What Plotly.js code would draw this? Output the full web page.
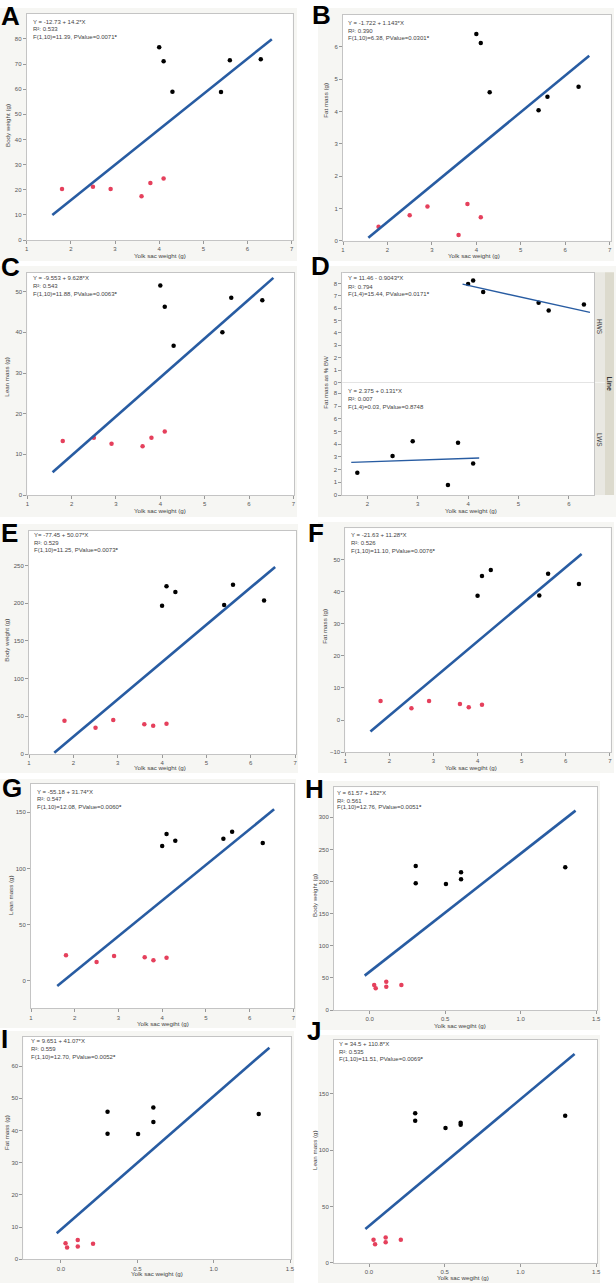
<!DOCTYPE html>
<html>
<head>
<meta charset="utf-8">
<script src="https://cdn.plot.ly/plotly-3.0.1.min.js"></script>
<style>
  html, body { margin: 0; padding: 0; background: #fff; }
  #fig { width: 616px; height: 1283px; }
</style>
</head>
<body>
<div id="fig"></div>
<script>
// yolk sac weight (g), panels A-G
var yolkLWS = [1.8, 2.5, 2.9, 3.6, 3.8, 4.1];
var yolkHWS = [4.0, 4.1, 4.3, 5.4, 5.6, 6.3];
// yolk sac weight (g), panels H-J
var yolkLWS2 = [0.03, 0.04, 0.11, 0.11, 0.21];
var yolkHWS2 = [0.305, 0.305, 0.505, 0.605, 0.605, 1.295];

// A - body weight (g)
var A_lws = [20.3, 21.2, 20.3, 17.4, 22.7, 24.5];
var A_hws = [76.7, 71.1, 59.0, 58.9, 71.5, 71.9];
var A_fitX = [1.58, 6.55], A_fitY = [9.9, 79.9];
// B - fat mass (g)
var B_lws = [0.43, 0.79, 1.06, 0.18, 1.14, 0.73];
var B_hws = [6.40, 6.12, 4.60, 4.04, 4.46, 4.77];
var B_fitX = [1.57, 6.54], B_fitY = [0.09, 5.73];
// C - lean mass (g)
var C_lws = [13.3, 14.1, 12.6, 12.0, 14.1, 15.6];
var C_hws = [51.5, 46.3, 36.7, 40.0, 48.5, 47.9];
var C_fitX = [1.57, 6.55], C_fitY = [5.6, 53.4];
// D - fat mass as % BW, split by line
var D_hws = [7.95, 8.24, 7.30, 6.44, 5.82, 6.30];
var D_hwsFitX = [3.89, 6.42], D_hwsFitY = [7.94, 5.66];
var D_lws = [1.76, 3.07, 4.22, 0.79, 4.12, 2.47];
var D_lwsFitX = [1.68, 4.22], D_lwsFitY = [2.57, 2.91];
// E - body weight (g)
var E_lws = [44.2, 34.9, 45.1, 39.3, 37.5, 40.2];
var E_hws = [196.6, 222.2, 214.7, 197.4, 224.4, 203.6];
var E_fitX = [1.57, 6.55], E_fitY = [1.8, 248];
// F - fat mass (g)
var F_lws = [5.9, 3.7, 5.9, 5.0, 4.0, 4.8];
var F_hws = [38.8, 45.0, 46.9, 38.9, 45.7, 42.5];
var F_fitX = [1.57, 6.36], F_fitY = [-3.6, 51.9];
// G - lean mass (g)
var G_lws = [22.6, 16.6, 22.0, 20.8, 18.1, 20.5];
var G_hws = [120.0, 130.7, 124.7, 126.5, 132.8, 122.7];
var G_fitX = [1.6, 6.56], G_fitY = [-4.7, 152.7];
// H - body weight (g)
var H_lws = [38.9, 33.7, 44.1, 36.3, 38.9];
var H_hws = [224.2, 197.2, 196.2, 214.4, 203.5, 222.1];
var H_fitX = [-0.033, 1.363], H_fitY = [53.5, 310.4];
// I - fat mass (g)
var I_lws = [5.0, 3.7, 6.0, 4.0, 4.8];
var I_hws = [45.8, 39.0, 38.9, 47.1, 42.6, 45.1];
var I_fitX = [-0.028, 1.365], I_fitY = [8.1, 65.7];
// J - lean mass (g)
var J_lws = [20.5, 16.3, 22.5, 18.1, 20.5];
var J_hws = [132.8, 126.3, 119.8, 124.5, 122.7, 130.7];
var J_fitX = [-0.024, 1.357], J_fitY = [29.9, 185.6];

var FONT = 'Liberation Sans, Arial, sans-serif';
var W = 616, H = 1283;
var RED = '#e5405c', BLUE = '#285ca2', EDGE = '#c4c4c4';
function px(x) { return x / W; }
function py(y) { return 1 - y / H; }

var traces = [];
var frames = [];
var shapes = [];
var annotations = [];
var layout = {
  width: W, height: H,
  margin: {l: 0, r: 0, t: 0, b: 0},
  paper_bgcolor: '#fff', plot_bgcolor: '#fff',
  showlegend: false,
  font: {family: FONT, color: '#444'}
};

function axisBase() {
  return {
    showline: true, mirror: true, linecolor: EDGE, linewidth: 1,
    ticks: 'outside', ticklen: 3, tickwidth: 1, tickcolor: '#999',
    tickfont: {family: FONT, size: 6, color: '#555'},
    showgrid: false, zeroline: false, fixedrange: true
  };
}

function note(text, x, y, opts) {
  var a = {
    text: text, xref: 'paper', yref: 'paper', x: px(x), y: py(y),
    xanchor: 'left', yanchor: 'middle', showarrow: false,
    font: {family: FONT, size: 6, color: '#444'}
  };
  for (var k in opts) a[k] = opts[k];
  annotations.push(a);
}

function hline(x0, x1, y, color) {
  shapes.push({type: 'line', xref: 'paper', yref: 'paper', layer: 'below',
    x0: px(x0), x1: px(x1), y0: py(y), y1: py(y), line: {color: color, width: 1}});
}

function pts(x, y, color, sfx) {
  return {x: x, y: y, type: 'scatter', mode: 'markers', xaxis: 'x' + sfx, yaxis: 'y' + sfx,
    marker: {color: color, size: 4.5}, hoverinfo: 'skip'};
}
function fit(x, y, w, sfx) {
  return {x: x, y: y, type: 'scatter', mode: 'lines', xaxis: 'x' + sfx, yaxis: 'y' + sfx,
    line: {color: BLUE, width: w}, hoverinfo: 'skip'};
}

function panel(n, o) {
  var sfx = n === 1 ? '' : String(n);
  var xa = axisBase(), ya = axisBase();
  xa.domain = [px(o.box[0]), px(o.box[1])];
  ya.domain = [py(o.box[3]), py(o.box[2])];
  xa.range = o.xr; ya.range = o.yr;
  xa.anchor = 'y' + sfx; ya.anchor = 'x' + sfx;
  xa.tick0 = 0; xa.dtick = o.xdt || 1;
  ya.tick0 = 0; ya.dtick = o.ydt;
  if (o.xfmt) xa.tickformat = o.xfmt;
  if (o.hideX) { xa.showticklabels = false; xa.ticks = ''; xa.showline = false; }
  if (o.noMirrorX) xa.mirror = false;
  layout['xaxis' + sfx] = xa;
  layout['yaxis' + sfx] = ya;

  shapes.push({type: 'rect', xref: 'paper', yref: 'paper', layer: 'below',
    x0: px(o.box[0]), x1: px(o.box[1]), y0: py(o.box[3]), y1: py(o.box[2]),
    fillcolor: '#fff', line: {width: 0}});

  o.series(sfx).forEach(function (t) { traces.push(t); });

  o.stats.forEach(function (s, i) { note(s, o.statX, o.statY[i]); });
  if (o.letter) note('<b>' + o.letter[0] + '</b>', o.letter[1], o.letter[2],
    {xanchor: 'center', font: {family: FONT, size: 26, color: '#000'}});
  if (o.ytitle) note(o.ytitle[0], o.ytitle[1], o.ytitle[2], {xanchor: 'center', textangle: -90, font: {family: FONT, size: 6.2, color: '#444'}});
  if (o.xtitle) note(o.xtitle[0], o.xtitle[1], o.xtitle[2], {xanchor: 'center', font: {family: FONT, size: 6.2, color: '#444'}});
}

// light grey panel frames
[[0, 297, 8, 261], [318, 614, 8, 261], [0, 297, 266, 517], [318, 616, 266, 517],
 [0, 298, 524, 773], [318, 614, 522, 773], [0, 296, 779, 1028], [318, 600, 781, 1030],
 [0, 294, 1031, 1283], [318, 600, 1035, 1283]].forEach(function (f) {
  frames.push({type: 'rect', xref: 'paper', yref: 'paper', layer: 'below',
    x0: px(f[0]), x1: px(f[1]), y0: py(f[3]), y1: py(f[2]),
    fillcolor: '#f6f6f3', line: {width: 0}});
});

var XT = 'Yolk sac weight (g)', XT2 = 'Yolk sac wegiht (g)';

panel(1, {box: [26.7, 292.7, 14, 240], xr: [1, 7.023], yr: [0, 89.9], ydt: 10,
  series: function (s) { return [pts(yolkLWS, A_lws, RED, s), pts(yolkHWS, A_hws, '#000', s), fit(A_fitX, A_fitY, 2.6, s)]; },
  stats: ['Y = -12.73 + 14.2*X', 'R²: 0.533', 'F(1,10)=11.39, PValue=0.0071<b>*</b>'], statX: 31, statY: [21.7, 29.3, 36.7],
  letter: ['A', 10.5, 16], ytitle: ['Body weight (g)', 7, 126], xtitle: [XT, 160, 255]});

panel(2, {box: [343, 610.7, 15, 240.7], xr: [1, 7.023], yr: [0, 6.99], ydt: 1,
  series: function (s) { return [pts(yolkLWS, B_lws, RED, s), pts(yolkHWS, B_hws, '#000', s), fit(B_fitX, B_fitY, 2.6, s)]; },
  stats: ['Y = -1.722 + 1.143*X', 'R²: 0.390', 'F(1,10)=6.38, PValue=0.0301<b>*</b>'], statX: 345.7, statY: [23.3, 30.7, 37.7],
  letter: ['B', 321, 15], ytitle: ['Fat mass (g)', 324.7, 100], xtitle: [XT, 474, 255.7]});

panel(3, {box: [27.3, 294, 273, 495], xr: [1, 7.015], yr: [0, 54.6], ydt: 10,
  series: function (s) { return [pts(yolkLWS, C_lws, RED, s), pts(yolkHWS, C_hws, '#000', s), fit(C_fitX, C_fitY, 2.6, s)]; },
  stats: ['Y = -9.553 + 9.628*X', 'R²: 0.543', 'F(1,10)=11.88, PValue=0.0063<b>*</b>'], statX: 31, statY: [278.3, 286, 293.7],
  letter: ['C', 10.5, 267], ytitle: ['Lean mass (g)', 6.7, 377], xtitle: [XT, 160, 510]});

panel(4, {box: [342.2, 594, 272.3, 382.4], xr: [1.5, 6.5], yr: [0, 8.9], ydt: 1, hideX: true,
  series: function (s) { return [pts(yolkHWS, D_hws, '#000', s), fit(D_hwsFitX, D_hwsFitY, 1.4, s)]; },
  stats: ['Y = 11.46 - 0.9043*X', 'R²: 0.794', 'F(1,4)=15.44, PValue=0.0171<b>*</b>'], statX: 346.3, statY: [278.3, 286.7, 294.3],
  letter: ['D', 320.5, 266]});

panel(5, {box: [342.2, 594, 382.4, 495], xr: [1.5, 6.5], yr: [0, 8.86], ydt: 1, noMirrorX: true,
  series: function (s) { return [pts(yolkLWS, D_lws, '#000', s), fit(D_lwsFitX, D_lwsFitY, 1.4, s)]; },
  stats: ['Y = 2.375 + 0.131*X', 'R²: 0.007', 'F(1,4)=0.03, PValue=0.8748'], statX: 346.3, statY: [391, 399, 406.7],
  ytitle: ['Fat mass as % BW', 324.7, 382], xtitle: [XT, 471, 510]});

// panel D: outer top edge and the faint divider between the two groups
hline(342.2, 594, 272.5, EDGE);
hline(342.2, 594, 382.5, '#e4e4e4');

panel(6, {box: [29, 296, 530.7, 754], xr: [1, 7.02], yr: [0, 296], ydt: 50,
  series: function (s) { return [pts(yolkLWS, E_lws, RED, s), pts(yolkHWS, E_hws, '#000', s), fit(E_fitX, E_fitY, 2.6, s)]; },
  stats: ['Y= -77.45 + 50.07*X', 'R²: 0.529', 'F(1,10)=11.25, PValue=0.0073<b>*</b>'], statX: 32.3, statY: [535, 542.7, 550],
  letter: ['E', 10, 532.5], ytitle: ['Body weight (g)', 6.7, 640], xtitle: [XT, 160, 767.7]});

panel(7, {box: [345.3, 610.7, 528.3, 752], xr: [1, 7.02], yr: [-10, 59.9], ydt: 10,
  series: function (s) { return [pts(yolkLWS, F_lws, RED, s), pts(yolkHWS, F_hws, '#000', s), fit(F_fitX, F_fitY, 2.6, s)]; },
  stats: ['Y = -21.63 + 11.28*X', 'R²: 0.526', 'F(1,10)=11.10, PValue=0.0076<b>*</b>'], statX: 348.7, statY: [535, 543.3, 550.7],
  letter: ['F', 316, 532.5], ytitle: ['Fat mass (g)', 323.7, 626], xtitle: [XT2, 471, 767]});

panel(8, {box: [31, 294, 784, 1008.3], xr: [1, 7.015], yr: [-24.65, 175.3], ydt: 50,
  series: function (s) { return [pts(yolkLWS, G_lws, RED, s), pts(yolkHWS, G_hws, '#000', s), fit(G_fitX, G_fitY, 2.6, s)]; },
  stats: ['Y = -55.18 + 31.74*X', 'R²: 0.547', 'F(1,10)=12.08, PValue=0.0060<b>*</b>'], statX: 35, statY: [791.7, 799.3, 806.7],
  letter: ['G', 12, 788.3], ytitle: ['Lean mass (g)', 11, 895], xtitle: [XT2, 163, 1023.3]});

panel(9, {box: [334, 597.3, 787.3, 1010], xr: [-0.236, 1.507], yr: [0, 346.7], xdt: 0.5, xfmt: '.1f', ydt: 50,
  series: function (s) { return [pts(yolkLWS2, H_lws, RED, s), pts(yolkHWS2, H_hws, '#000', s), fit(H_fitX, H_fitY, 2.6, s)]; },
  stats: ['Y = 61.57 + 182*X', 'R²: 0.561', 'F(1,10)=12.76, PValue=0.0051<b>*</b>'], statX: 335.3, statY: [793.3, 801, 807.3],
  letter: ['H', 314, 788.5], ytitle: ['Body weight (g)', 314, 896], xtitle: [XT2, 460, 1025.7]});

panel(10, {box: [23.3, 290.7, 1036.7, 1259.3], xr: [-0.2467, 1.5044], yr: [0, 69.1], xdt: 0.5, xfmt: '.1f', ydt: 10,
  series: function (s) { return [pts(yolkLWS2, I_lws, RED, s), pts(yolkHWS2, I_hws, '#000', s), fit(I_fitX, I_fitY, 2.6, s)]; },
  stats: ['Y = 9.651 + 41.07*X', 'R²: 0.559', 'F(1,10)=12.70, PValue=0.0052<b>*</b>'], statX: 29.3, statY: [1040.7, 1049, 1056.7],
  letter: ['I', 4.5, 1039], ytitle: ['Fat mass (g)', 6, 1133], xtitle: [XT, 157, 1273.3]});

panel(11, {box: [334, 597.3, 1040, 1262.7], xr: [-0.231, 1.507], yr: [0, 198], xdt: 0.5, xfmt: '.1f', ydt: 50,
  series: function (s) { return [pts(yolkLWS2, J_lws, RED, s), pts(yolkHWS2, J_hws, '#000', s), fit(J_fitX, J_fitY, 2.6, s)]; },
  stats: ['Y = 34.5 + 110.8*X', 'R²: 0.535', 'F(1,10)=11.51, PValue=0.0069<b>*</b>'], statX: 337.3, statY: [1044.3, 1052.3, 1059],
  letter: ['J', 314, 1031], ytitle: ['Lean mass (g)', 314, 1150], xtitle: [XT2, 463, 1277.3]});

// group strip of panel D
shapes.push({type: 'rect', xref: 'paper', yref: 'paper', layer: 'below',
  x0: px(594), x1: px(605), y0: py(495), y1: py(272.3), fillcolor: '#e9e8e2', line: {width: 0}});
shapes.push({type: 'rect', xref: 'paper', yref: 'paper', layer: 'below',
  x0: px(605), x1: px(614), y0: py(495), y1: py(272.3), fillcolor: '#dcdacd', line: {width: 0}});
hline(594, 605, 382.5, '#f4f4f1');
note('HWS', 600, 327, {xanchor: 'center', textangle: 90, font: {family: FONT, size: 6.5, color: '#444'}});
note('LWS', 600, 440, {xanchor: 'center', textangle: 90, font: {family: FONT, size: 6.5, color: '#444'}});
note('<b>Line</b>', 609.8, 383.3, {xanchor: 'center', textangle: 90, font: {family: FONT, size: 7, color: '#333'}});

layout.shapes = frames.concat(shapes);
layout.annotations = annotations;

Plotly.newPlot('fig', traces, layout, {displayModeBar: false, staticPlot: true});
</script>
</body>
</html>
